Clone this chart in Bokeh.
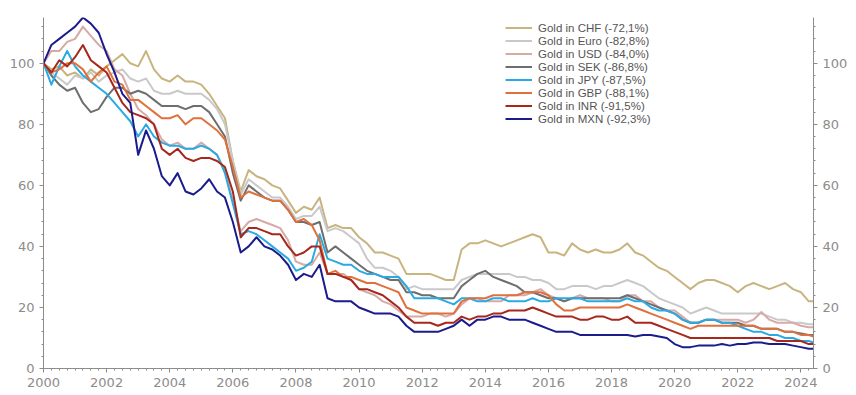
from bokeh.plotting import figure
from bokeh.models import LinearAxis, Range1d, SingleIntervalTicker, Legend, LegendItem
from bokeh.embed import file_html
from bokeh.resources import INLINE

# Quarterly observations 2000.00 ... 2024.25, plus last reading (mid-2024)
DATES = [2000 + q / 4 for q in range(98)] + [2024.4]

CHF = [100, 98, 99, 96, 97, 95, 98, 96, 99, 101, 103, 100, 99, 104, 98, 95,
       94, 96, 94, 94, 93, 90, 86, 82, 68, 58, 65, 63, 62, 60, 59, 55,
       51, 53, 52, 56, 46, 47, 46, 46, 43, 41, 38, 38, 37, 36, 31, 31,
       31, 31, 30, 29, 29, 39, 41, 41, 42, 41, 40, 41, 42, 43, 44, 43,
       38, 38, 37, 41, 39, 38, 39, 38, 38, 39, 41, 38, 37, 35, 33, 32,
       30, 28, 26, 28, 29, 29, 28, 27, 25, 27, 28, 27, 26, 27, 28, 26,
       25, 22, 22]
EURO = [100, 97, 95, 93, 96, 95, 97, 94, 96, 97, 98, 95, 94, 95, 91, 90,
        90, 91, 90, 90, 90, 88, 85, 80, 68, 57, 62, 60, 58, 56, 56, 53,
        49, 50, 50, 53, 45, 46, 45, 43, 41, 36, 33, 33, 32, 30, 26, 27,
        26, 26, 26, 26, 26, 29, 30, 31, 31, 31, 31, 31, 30, 30, 29, 29,
        28, 26, 26, 27, 27, 27, 26, 27, 27, 28, 29, 28, 27, 25, 23, 22,
        21, 20, 18, 19, 20, 19, 18, 18, 18, 18, 18, 18, 17, 16, 16, 15,
        15, 14.5, 14.5]
USD = [100, 104, 104, 107, 108, 112, 109, 106, 104, 98, 96, 90, 85, 83, 80, 75,
       73, 74, 72, 72, 74, 72, 70, 65, 55, 45, 48, 49, 48, 47, 46, 42,
       35, 34, 34, 38, 31, 31, 31, 29, 26, 25, 24, 22, 21, 19, 17, 17,
       17, 18, 18, 17, 18, 21, 23, 23, 22, 22, 22, 24, 24, 24, 25, 26,
       24, 23, 22, 23, 24, 23, 23, 23, 22, 22, 24, 24, 22, 22, 20, 19,
       19, 17, 15, 15, 16, 16, 16, 16, 16, 15, 16, 18.5, 16, 15, 15, 15,
       14, 13.5, 13.5]
SEK = [100, 96, 93, 91, 92, 87, 84, 85, 89, 92, 92, 90, 91, 90, 88, 86,
       86, 86, 85, 86, 86, 84, 80, 76, 64, 55, 60, 58, 56, 55, 55, 52,
       48, 48, 47, 48, 38, 40, 38, 36, 34, 32, 31, 30, 29, 29, 25, 25,
       24, 24, 23, 23, 23, 27, 29, 31, 32, 30, 29, 28, 27, 25, 25, 24,
       23, 23, 22, 23, 23, 23, 23, 23, 23, 23, 24, 23, 22, 21, 20, 19,
       18, 16, 15, 15, 16, 16, 15, 15, 15, 14, 14, 13, 13, 13, 12, 12,
       11.5, 11, 11]
JPY = [100, 93, 99, 104, 99, 96, 94, 92, 90, 87, 84, 81, 76, 80, 76, 74,
       73, 73, 72, 72, 73, 72, 70, 64, 54, 44, 45, 44, 42, 40, 38, 36,
       32, 33, 35, 44, 36, 35, 34, 34, 32, 31, 31, 30, 30, 30, 27, 23,
       23, 23, 23, 22, 21, 23, 23, 22, 22, 23, 23, 22, 22, 22, 23, 22,
       22, 23, 23, 23, 23, 22, 22, 22, 22, 22, 23, 22, 22, 20, 19, 19,
       18, 16, 15, 15, 16, 16, 15, 15, 14, 13, 12, 12, 11, 11, 10, 10,
       9, 9, 8.5]
GBP = [100, 97, 98, 100, 100, 98, 94, 97, 99, 94, 93, 88, 88, 86, 84, 82,
       82, 83, 80, 82, 82, 80, 78, 75, 66, 56, 58, 57, 56, 55, 55, 52,
       48, 49, 47, 42, 31, 32, 30, 30, 29, 28, 28, 27, 26, 25, 20, 19,
       18, 18, 18, 18, 18, 22, 23, 23, 23, 24, 24, 24, 24, 25, 25, 25,
       24, 21, 19, 19, 20, 20, 20, 20, 20, 20, 21, 20, 19, 18, 17, 16,
       15, 14, 13, 14, 14, 14, 14, 14, 14, 14, 14, 13, 13, 13, 12, 12,
       11, 11, 10.5]
INR = [100, 97, 101, 99, 102, 106, 101, 99, 97, 92, 87, 84, 83, 82, 80, 72,
       70, 72, 69, 68, 69, 69, 68, 66, 58, 43, 46, 46, 45, 44, 44, 40,
       37, 38, 40, 40, 31, 31, 30, 29, 26, 26, 25, 24, 22, 20, 17, 15,
       15, 15, 14, 15, 15, 17, 16, 17, 17, 18, 18, 19, 19, 19, 20, 19,
       18, 17, 17, 17, 16, 16, 17, 17, 16, 16, 17, 15, 15, 15, 14, 13,
       12, 11, 10, 10, 10, 10, 10, 10, 10, 10, 10, 10, 10, 9, 9, 9,
       9, 8, 8]
MXN = [100, 106, 108, 110, 112, 115, 113, 110, 103, 97, 90, 87, 70, 78, 72, 63,
       60, 64, 58, 57, 59, 62, 58, 56, 48, 38, 40, 43, 40, 39, 37, 34,
       29, 31, 30, 34, 23, 22, 22, 22, 20, 19, 18, 18, 18, 17, 14, 12,
       12, 12, 12, 13, 14, 16, 14, 16, 16, 17, 17, 16, 16, 16, 15, 14,
       13, 12, 12, 12, 11, 11, 11, 11, 11, 11, 11, 10.5, 11, 11, 10.5, 10,
       8, 7, 7, 7.5, 7.5, 7.5, 8, 7.5, 8, 8, 8.5, 8.5, 8, 8, 8, 7.5,
       7, 6.5, 6.5]

LABELS = ["Gold in CHF (-72,1%)", "Gold in Euro (-82,8%)", "Gold in USD (-84,0%)",
          "Gold in SEK (-86,8%)", "Gold in JPY (-87,5%)", "Gold in GBP (-88,1%)",
          "Gold in INR (-91,5%)", "Gold in MXN (-92,3%)"]
SERIES = [CHF, EURO, USD, SEK, JPY, GBP, INR, MXN]
COLORS = ["#C8B47E", "#C9C9CB", "#D6AAA6", "#6E6E6E", "#2AAAE2", "#E0703C",
          "#A6281C", "#1B1B8C"]

GREY = "#8C8C8C"

p = figure(width=856, height=395, output_backend="svg", toolbar_location=None,
           x_range=Range1d(2000, 2024.4), y_range=Range1d(0, 115),
           min_border_left=43, min_border_right=43, min_border_top=17,
           min_border_bottom=27)
p.outline_line_color = None
p.xgrid.visible = False
p.ygrid.visible = False
p.background_fill_color = "white"

p.xaxis.ticker = SingleIntervalTicker(interval=2, num_minor_ticks=8)
p.yaxis.ticker = SingleIntervalTicker(interval=20, num_minor_ticks=5)
right = LinearAxis(ticker=SingleIntervalTicker(interval=20, num_minor_ticks=5))
p.add_layout(right, "right")

for ax in [p.xaxis[0], p.yaxis[0], right]:
    ax.axis_line_color = GREY
    ax.major_tick_line_color = GREY
    ax.minor_tick_line_color = GREY
    ax.major_tick_out = 4
    ax.major_tick_in = 0
    ax.minor_tick_out = 2
    ax.minor_tick_in = 0
    ax.major_label_text_color = GREY
    ax.major_label_text_font = "DejaVu Sans"
    ax.major_label_text_font_size = "13px"
    ax.major_label_standoff = 5

items = []
for lab, ys, col in zip(LABELS, SERIES, COLORS):
    r = p.line(DATES, ys, line_color=col, line_width=2, line_join="round")
    items.append(LegendItem(label=lab, renderers=[r]))

legend = Legend(items=items, location=(462, 243), padding=0, margin=0, spacing=0,
                glyph_width=27, glyph_height=13, label_height=13,
                label_text_font="Liberation Sans", label_text_font_size="11.5px",
                label_text_color="#555555", label_standoff=6,
                border_line_color=None, background_fill_alpha=0)
p.add_layout(legend)

open("out.html", "w").write(file_html(p, INLINE))
